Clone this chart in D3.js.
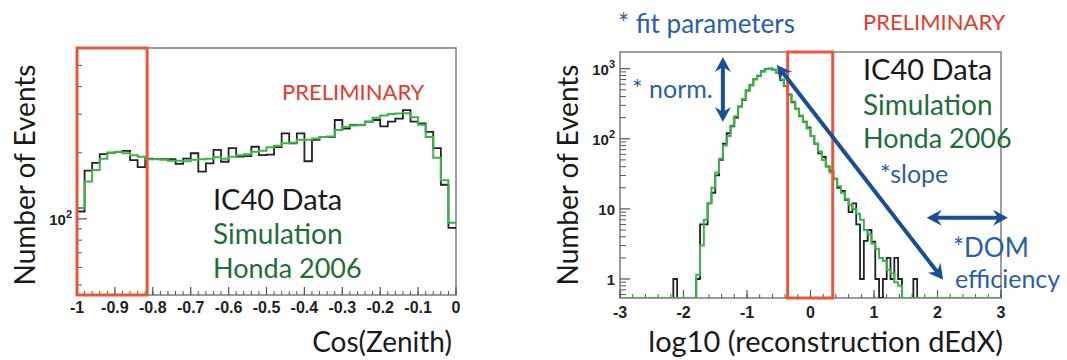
<!DOCTYPE html>
<html><head><meta charset="utf-8">
<script src="https://cdn.jsdelivr.net/npm/d3@7"></script>
<style>body{margin:0;background:#fff}</style>
</head><body><svg id="c" width="1067" height="360"></svg>
<script>
// ---------- DATA ----------
// Left panel: Cos(Zenith), 50 bins from -1 to 0
const cosRange = [-1, 0];
const cosData = [108,166,180,197,200,202,204,185,172,
  188,187,187,187,178,188,199,164,179,206,182,210,192,193,
  213,195,
  196,212,245,221,245,183,229,236,236,282,258,268,268,277,282,264,277,286,313,277,272,249,210,143,91];
const cosSim = [112,148,167,188,200,202,199,195,192,
  187,187,186,184,184,183,186,187,188,191,188,192,195,197,
  202,204,
  212,215,221,222,229,229,232,236,237,254,263,266,268,277,289,296,300,302,303,290,268,236,190,150,96];
const cosXTicks = [-1,-0.9,-0.8,-0.7,-0.6,-0.5,-0.4,-0.3,-0.2,-0.1,0];
const cosXTickLabels = ["-1","-0.9","-0.8","-0.7","-0.6","-0.5","-0.4","-0.3","-0.2","-0.1","0"];
const cosYMajor = [100];
const cosYMinor = [50,60,70,80,90,200,300,400,500];
const cosBox = [-1, -0.815];

// Right panel: log10(dEdX), 100 bins from -3 to 3
const dedxRange = [-3, 3];
const dedxSim = [0,0,0,0,0,0,0,0,0,0, 0,0,0,0,0,0,0,0,0,0,
  1.15,3,7,12,20,33,52,80,110,155,
  210,285,370,480,590,700,800,910,980,1010,
  960,870,700,560,420,340,265,215,172,140,
  110,85,66,50,41,33,27,21,17,14,
  11.5,10,8.5,7,5,4.3,3.2,2.7,2.0,1.8,
  1.35,1.2,0.9,0.8,0,0,0,0,0,0,
  0,0,0,0,0,0,0,0,0,0, 0,0,0,0,0,0,0,0,0,0];
const dedxData = [0,0,0,0,0,0,0,0,0,0, 0,0,0,0,1,0,0,0,0,0,
  1,6,6,12,17,30,50,85,120,150,
  200,290,360,490,580,710,790,920,990,1000,
  970,880,690,570,430,330,270,210,175,145,
  110,85,62,55,40,35,27,20,18,13.5,
  9,12,6,1,3.5,5,3.4,1,0,1,
  2,1,2,1,0,0,0,1,0,0,
  0,0,0,0,0,0,0,0,0,0, 0,0,0,0,0,0,0,0,0,0];
const dedxXTicks = [-3,-2,-1,0,1,2,3];
const dedxYMajor = [1,10,100,1000];
const dedxYLabels = [["1",""],["10",""],["10","2"],["10","3"]];
const dedxBox = [-0.36, 0.35];
// annotation arrows in data coordinates [x1,y1,x2,y2]
const arrows = [[-1.38,1470,-1.38,174],[-0.53,1130,2.09,0.98],[1.83,7.5,3.11,7.5]];

// ---------- DRAW ----------
const svg = d3.select("#c");
svg.append("rect").attr("width",1067).attr("height",360).attr("fill","#fff");
const FONT = "Lato, 'Open Sans', sans-serif";
const TFONT = "'Liberation Sans', Arial, sans-serif";
const C_BLACK="#222", C_GREEN="#3bb54a", C_RED="#e8573c", C_FRAME="#7d7d7d",
      C_BLUE="#2b5ea8", C_ARROW="#1a4f98", C_DGREEN="#1f6e38", C_PRE="#e43a2e";

function stepPath(vals, range, xs, ys){
  const n = vals.length, w = (range[1]-range[0])/n, ymin = ys.domain()[0];
  const yv = v => ys(v > ymin ? v : ymin);
  let p = "M"+xs(range[0])+","+yv(vals[0]);
  for(let i=0;i<n;i++){
    if(i>0) p += "V"+yv(vals[i]);
    p += "H"+xs(range[0]+(i+1)*w);
  }
  return p;
}

function panel(opt){
  const {xs, ys, id} = opt;
  const [x0,x1] = xs.range(), [y0,y1] = ys.range(); // y0 bottom
  const g = svg.append("g");
  g.append("clipPath").attr("id",id).append("rect")
    .attr("x",x0).attr("y",y1).attr("width",x1-x0).attr("height",y0-y1);
  g.append("rect").attr("x",x0).attr("y",y1).attr("width",x1-x0).attr("height",y0-y1)
    .attr("fill","none").attr("stroke",C_FRAME).attr("stroke-width",1.5);
  opt.xMinor.forEach(v=>g.append("line").attr("x1",xs(v)).attr("x2",xs(v)).attr("y1",y0).attr("y2",y0-4)
     .attr("stroke","#555").attr("stroke-width",1));
  opt.xMajor.forEach((v,i)=>{
    g.append("line").attr("x1",xs(v)).attr("x2",xs(v)).attr("y1",y0).attr("y2",y0-8)
     .attr("stroke","#555").attr("stroke-width",1.2);
    g.append("text").attr("x",xs(v)).attr("y",opt.xLabY).attr("text-anchor","middle")
     .attr("font-family",TFONT).attr("font-weight","bold").attr("font-size",16).attr("fill","#222")
     .text(opt.xLabels[i]);
  });
  opt.yMinor.forEach(v=>g.append("line").attr("x1",x0).attr("x2",x0+opt.minLen).attr("y1",ys(v)).attr("y2",ys(v))
     .attr("stroke","#555").attr("stroke-width",1));
  opt.yMajor.forEach((v,i)=>{
    g.append("line").attr("x1",x0).attr("x2",x0+10).attr("y1",ys(v)).attr("y2",ys(v))
     .attr("stroke","#555").attr("stroke-width",1.2);
    const t = g.append("text").attr("x",x0-5).attr("y",ys(v)+6).attr("text-anchor","end")
     .attr("font-family",TFONT).attr("font-weight","bold").attr("font-size",15).attr("fill","#222");
    const [base,sup] = opt.yLabels[i];
    if(sup){
      t.append("tspan").text(base);
      t.append("tspan").attr("dy",-7).attr("font-size",11).text(sup);
    } else t.text(base);
  });
  const hg = g.append("g").attr("clip-path","url(#"+id+")");
  hg.append("path").attr("d",stepPath(opt.data,opt.range,xs,ys)).attr("fill","none")
    .attr("stroke",C_BLACK).attr("stroke-width",1.8);
  hg.append("path").attr("d",stepPath(opt.sim,opt.range,xs,ys)).attr("fill","none")
    .attr("stroke",C_GREEN).attr("stroke-width",2);
  g.append("rect").attr("x",xs(opt.box[0])).attr("y",y1).attr("width",xs(opt.box[1])-xs(opt.box[0]))
    .attr("height",y0-y1).attr("fill","none").attr("stroke",C_RED).attr("stroke-width",3);
  return g;
}

// Left panel
const xL = d3.scaleLinear().domain(cosRange).range([77,456]);
const yL = d3.scaleLog().domain([45,600]).range([295,48]);
panel({id:"clipL", xs:xL, ys:yL, data:cosData, sim:cosSim, range:cosRange, box:cosBox,
  xMajor:cosXTicks, xLabels:cosXTickLabels, xMinor:d3.range(-1,0.001,0.02), xLabY:313,
  yMajor:cosYMajor, yLabels:[["10","2"]], yMinor:cosYMinor, minLen:5});

// Right panel
const xR = d3.scaleLinear().domain(dedxRange).range([620,1001]);
const yR = d3.scaleLog().domain([0.536,1730]).range([298,52]);
const rMinor = [];
[0.1,1,10,100].forEach(d=>[2,3,4,5,6,7,8,9].forEach(k=>{const v=d*k; if(v>0.54 && v<1730) rMinor.push(v);}));
panel({id:"clipR", xs:xR, ys:yR, data:dedxData, sim:dedxSim, range:dedxRange, box:dedxBox,
  xMajor:dedxXTicks, xLabels:dedxXTicks.map(String), xMinor:d3.range(-3,3.001,0.2), xLabY:318,
  yMajor:dedxYMajor, yLabels:dedxYLabels, yMinor:rMinor, minLen:6});

function txt(x,y,s,size,fill,anchor){
  return svg.append("text").attr("x",x).attr("y",y).attr("font-family",FONT).attr("font-size",size)
    .attr("fill",fill).attr("text-anchor",anchor||"start").text(s);
}
txt(282,100,"PRELIMINARY",22,C_PRE);
txt(213,210,"IC40 Data",29,"#1a1a1a");
txt(213,244,"Simulation",28,C_DGREEN);
txt(213,278,"Honda 2006",27,C_DGREEN);
svg.append("text").attr("transform","translate(35,175) rotate(-90)").attr("text-anchor","middle")
  .attr("font-family",FONT).attr("font-size",28).attr("fill","#1a1a1a").text("Number of Events");
txt(452,352,"Cos(Zenith)",28,"#1a1a1a","end");

txt(618,33,"* fit parameters",26,C_BLUE);
txt(863,30,"PRELIMINARY",22,C_PRE);
txt(863,80,"IC40 Data",29,"#1a1a1a");
txt(863,115,"Simulation",28,C_DGREEN);
txt(863,148,"Honda 2006",27,C_DGREEN);
txt(632,98,"* norm.",25,C_BLUE);
txt(880,183,"*slope",25,C_BLUE);
txt(953,257,"*DOM",26,C_BLUE);
txt(955,288,"efficiency",25,C_BLUE);
svg.append("text").attr("transform","translate(578,175) rotate(-90)").attr("text-anchor","middle")
  .attr("font-family",FONT).attr("font-size",28).attr("fill","#1a1a1a").text("Number of Events");
txt(1003,352,"log10 (reconstruction dEdX)",29,"#1a1a1a","end");

function head(x,y,ux,uy){
  const L=15, W=8, N=5, px=-uy, py=ux;
  const bx=x-ux*L, by=y-uy*L;
  const nx=x-ux*(L-N), ny=y-uy*(L-N);
  return `M${x},${y}L${bx+px*W},${by+py*W}L${nx},${ny}L${bx-px*W},${by-py*W}Z`;
}
arrows.forEach(([a,b,c,d])=>{
  const x1=xR(a), y1=yR(b), x2=xR(c), y2=yR(d);
  const len=Math.hypot(x2-x1,y2-y1), ux=(x2-x1)/len, uy=(y2-y1)/len;
  svg.append("line").attr("x1",x1+ux*8).attr("y1",y1+uy*8).attr("x2",x2-ux*8).attr("y2",y2-uy*8)
    .attr("stroke",C_ARROW).attr("stroke-width",4);
  svg.append("path").attr("d",head(x2,y2,ux,uy)+head(x1,y1,-ux,-uy)).attr("fill",C_ARROW);
});
</script></body></html>
